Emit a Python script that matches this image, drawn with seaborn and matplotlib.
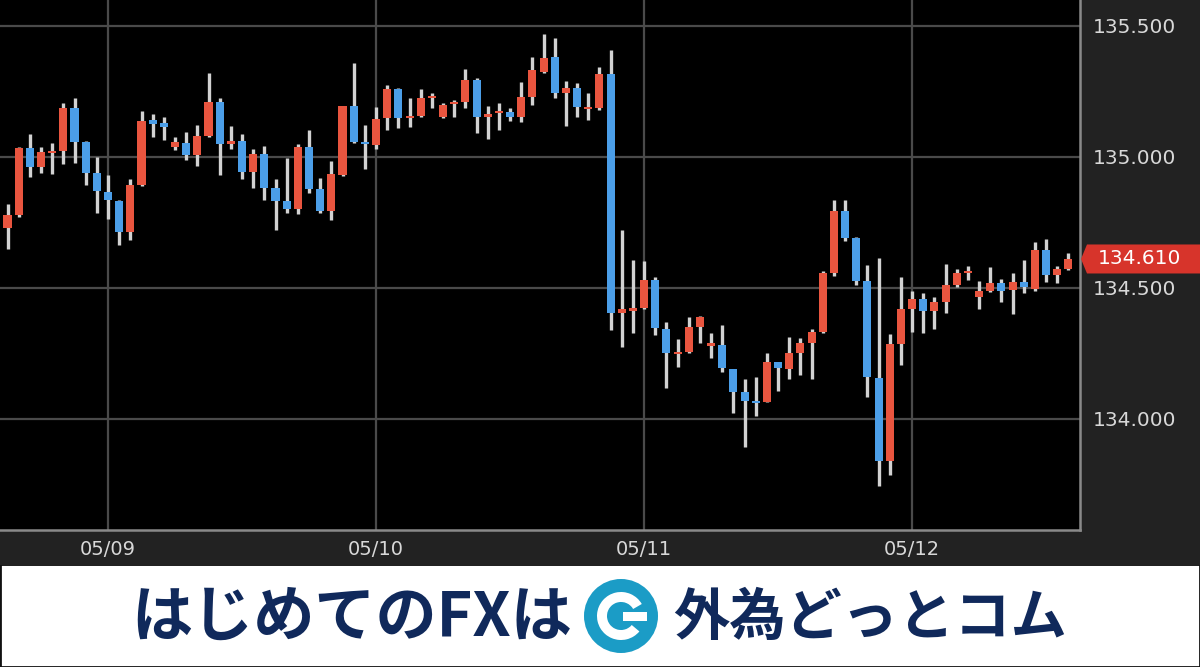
import numpy as np
import pandas as pd
import matplotlib
matplotlib.use("Agg")
import matplotlib.pyplot as plt
import seaborn as sns
from matplotlib.patches import Rectangle, Polygon, Circle, Wedge
import matplotlib.transforms as mtransforms

# ---------------- data (USD/JPY 1-hour candles, 05/08 15:00 .. 05/12 14:00) -------------
opens = [134.728, 134.778, 135.034, 134.961, 135.015, 135.022, 135.187, 135.055, 134.938, 134.866,
         134.832, 134.713, 134.893, 135.141, 135.130, 135.038, 135.053, 135.007, 135.080, 135.210,
         135.049, 135.061, 134.942, 135.011, 134.881, 134.832, 134.801, 135.038, 134.877, 134.793,
         134.931, 135.194, 135.057, 135.045, 135.149, 135.259, 135.149, 135.156, 135.226, 135.152,
         135.202, 135.210, 135.294, 135.154, 135.167, 135.171, 135.152, 135.229, 135.324, 135.382,
         135.245, 135.263, 135.183, 135.187, 135.317, 134.404, 134.413, 134.423, 134.530, 134.343,
         134.246, 134.255, 134.350, 134.278, 134.281, 134.190, 134.102, 134.068, 134.064, 134.217,
         134.190, 134.251, 134.289, 134.331, 134.557, 134.793, 134.690, 134.526, 134.155, 133.838,
         134.285, 134.419, 134.457, 134.411, 134.446, 134.511, 134.556, 134.465, 134.488, 134.518,
         134.492, 134.522, 134.495, 134.644, 134.549, 134.572]
highs = [134.820, 135.038, 135.087, 135.038, 135.053, 135.206, 135.225, 135.061, 135.000, 134.931,
         134.835, 134.916, 135.175, 135.164, 135.152, 135.076, 135.095, 135.122, 135.320, 135.225,
         135.118, 135.087, 135.030, 135.042, 134.916, 134.996, 135.049, 135.103, 134.919, 134.984,
         135.194, 135.359, 135.122, 135.191, 135.275, 135.263, 135.225, 135.259, 135.244, 135.206,
         135.217, 135.336, 135.301, 135.194, 135.206, 135.187, 135.286, 135.382, 135.469, 135.454,
         135.290, 135.282, 135.244, 135.343, 135.408, 134.721, 134.606, 134.602, 134.541, 134.369,
         134.304, 134.388, 134.392, 134.327, 134.358, 134.190, 134.152, 134.159, 134.251, 134.217,
         134.312, 134.308, 134.343, 134.564, 134.835, 134.835, 134.694, 134.587, 134.614, 134.324,
         134.541, 134.488, 134.480, 134.465, 134.591, 134.572, 134.583, 134.526, 134.579, 134.534,
         134.557, 134.606, 134.675, 134.686, 134.583, 134.633]
lows = [134.648, 134.770, 134.923, 134.938, 134.935, 134.973, 134.977, 134.893, 134.786, 134.763,
        134.664, 134.683, 134.890, 135.076, 135.065, 135.026, 134.988, 134.965, 135.076, 134.931,
        135.030, 134.916, 134.881, 134.835, 134.721, 134.786, 134.782, 134.862, 134.786, 134.759,
        134.927, 135.053, 134.954, 135.030, 135.103, 135.110, 135.114, 135.152, 135.187, 135.149,
        135.152, 135.187, 135.091, 135.068, 135.103, 135.137, 135.133, 135.198, 135.320, 135.225,
        135.118, 135.152, 135.141, 135.179, 134.339, 134.274, 134.327, 134.419, 134.320, 134.117,
        134.197, 134.251, 134.289, 134.232, 134.178, 134.022, 133.892, 134.010, 134.062, 134.106,
        134.152, 134.167, 134.152, 134.327, 134.545, 134.679, 134.511, 134.083, 133.743, 133.785,
        134.205, 134.331, 134.327, 134.343, 134.404, 134.503, 134.530, 134.419, 134.484, 134.446,
        134.400, 134.480, 134.488, 134.522, 134.518, 134.568]
closes = [134.778, 135.034, 134.961, 135.019, 135.022, 135.187, 135.057, 134.938, 134.870, 134.835,
          134.713, 134.893, 135.137, 135.126, 135.114, 135.057, 135.007, 135.080, 135.210, 135.049,
          135.061, 134.942, 135.011, 134.881, 134.832, 134.801, 135.038, 134.877, 134.793, 134.935,
          135.194, 135.057, 135.049, 135.145, 135.259, 135.149, 135.156, 135.225, 135.234, 135.198,
          135.210, 135.294, 135.152, 135.164, 135.174, 135.152, 135.229, 135.332, 135.378, 135.244,
          135.262, 135.191, 135.192, 135.317, 134.404, 134.419, 134.422, 134.530, 134.346, 134.251,
          134.254, 134.350, 134.388, 134.288, 134.194, 134.102, 134.068, 134.059, 134.217, 134.194,
          134.251, 134.289, 134.331, 134.557, 134.793, 134.690, 134.526, 134.159, 133.838, 134.285,
          134.419, 134.457, 134.411, 134.446, 134.511, 134.557, 134.563, 134.488, 134.518, 134.488,
          134.522, 134.503, 134.644, 134.549, 134.572, 134.610]

date_labels = ["05/09", "05/10", "05/11", "05/12"]
y_ticks = [134.0, 134.5, 135.0, 135.5]
y_tick_labels = ["134.000", "134.500", "135.000", "135.500"]
last_price_label = "134.610"
banner_left = "はじめてのFXは"
banner_right = "外為どっとコム"

# ---------------- styling ----------------
UP = "#e9553f"
DOWN = "#4b9ee8"
WICK = "#d2d2d2"
GRID = "#4a4a4a"
PANEL = "#222222"
NAVY = "#10295b"
TEAL = "#1b9cc6"

sns.set_theme(style="dark")
plt.rcParams["font.family"] = ["DejaVu Sans", "Noto Sans CJK JP"]

W, H = 1200, 667
fig = plt.figure(figsize=(W / 100, H / 100), dpi=100, facecolor=PANEL)

df = pd.DataFrame({"open": opens, "high": highs, "low": lows, "close": closes})
df["idx"] = np.arange(len(df))
df["hour"] = (15 + df["idx"]) % 24
df["up"] = df["close"] >= df["open"]
df["bottom"] = df[["open", "close"]].min(axis=1)
df["body"] = (df["close"] - df["open"]).abs().clip(lower=0.008)

ax = fig.add_axes([0, 1 - 530 / H, 1080 / W, 530 / H])
ax.set_facecolor("black")

# grid
midnights = df.loc[df["hour"] == 0, "idx"].tolist()
for yv in y_ticks:
    ax.axhline(yv, color=GRID, lw=1.6, zorder=1)
for xv in midnights:
    ax.axvline(xv, color=GRID, lw=1.6, zorder=1)

# candles
ax.vlines(df["idx"], df["low"], df["high"], color=WICK, lw=2.4, zorder=2)
colors = np.where(df["up"], UP, DOWN)
ax.bar(df["idx"], df["body"], bottom=df["bottom"], width=0.72,
       color=colors, edgecolor="none", zorder=3)

ax.set_xlim(-0.672, 96.04)
ax.set_ylim(133.575, 135.599)
ax.grid(False)

ax.set_xticks(midnights)
ax.set_xticklabels(date_labels, color="#d8d8d8", fontsize=14)
ax.tick_params(axis="x", length=0, pad=7)
ax.yaxis.tick_right()
ax.set_yticks(y_ticks)
ax.set_yticklabels(y_tick_labels, color="#d8d8d8", fontsize=14.5)
ax.tick_params(axis="y", length=0, pad=9)
for lab in ax.get_yticklabels():
    lab.set_horizontalalignment("left")

for side in ["top", "left"]:
    ax.spines[side].set_visible(False)
for side in ["right", "bottom"]:
    ax.spines[side].set_visible(True)
    ax.spines[side].set_color("#8a8a8a")
    ax.spines[side].set_linewidth(1.8)

# last price tag
last = closes[-1]
tr = mtransforms.blended_transform_factory(fig.transFigure, ax.transData)
hh = 14.5 / 261.8
tag = Polygon([(1081 / W, last), (1087 / W, last + hh), (1.0, last + hh),
               (1.0, last - hh), (1087 / W, last - hh)], closed=True,
              transform=tr, facecolor="#d7342b", edgecolor="none", clip_on=False, zorder=5)
fig.patches.append(tag)
fig.text(1098 / W, last, last_price_label, transform=tr, color="white",
         fontsize=14.5, ha="left", va="center", zorder=6)

# ---------------- banner ----------------
bx = fig.add_axes([0, 0, 1, 101 / H])
bx.set_xlim(0, W)
bx.set_ylim(667, 566)
bx.set_facecolor("white")
bx.set_xticks([])
bx.set_yticks([])
for s in bx.spines.values():
    s.set_visible(True)
    s.set_color("#111111")
    s.set_linewidth(2)
bx.spines["top"].set_visible(False)

cjk = ["Noto Sans CJK JP", "DejaVu Sans"]
bx.text(572, 618, banner_left, ha="right", va="center", fontsize=44,
        fontweight="bold", color=NAVY, family=cjk)
bx.text(673, 618, banner_right, ha="left", va="center", fontsize=40.5,
        fontweight="bold", color=NAVY, family=cjk)

cx, cy = 621, 616
bx.add_patch(Circle((cx, cy), 37, facecolor=TEAL, edgecolor="none"))
bx.add_patch(Wedge((cx, cy), 24, 40, 330, width=10, facecolor="white", edgecolor="none"))
bx.add_patch(Rectangle((cx + 2, cy - 4.5), 24, 9, facecolor="white", edgecolor="none"))

fig.savefig("out.png", dpi=100, facecolor=fig.get_facecolor())
